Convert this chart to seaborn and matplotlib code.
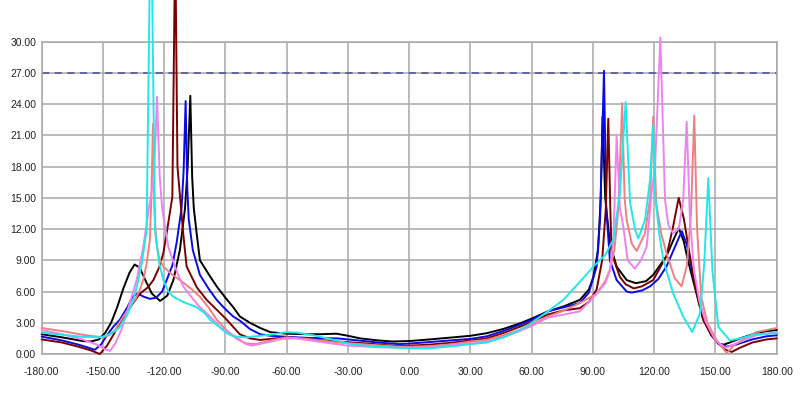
#Importar librerías
import pandas as pd
import numpy as np
import matplotlib
matplotlib.use('Agg')
import matplotlib.pyplot as plt
import seaborn as sns

#datos (ángulo vs valor)
x_negro = [-180, -170, -160, -156, -152, -149, -146, -143, -140, -137, -134.5, -132, -129, -126, -122, -118.5, -115.5, -112.3, -109.8, -108.5, -107.2, -106.3, -105.5, -104.1, -102.5, -98, -94.3, -90, -86.2, -82.9, -78, -73, -68, -60, -50, -43.7, -35.5, -30, -24, -15, -8, 0.4, 10, 21.6, 30, 38, 46, 54.3, 60, 68, 76, 83.6, 88, 90.2, 92.5, 93.8, 94.7, 96, 98.3, 101.6, 106.5, 111, 116, 119.5, 126, 129.5, 132, 134.5, 136.5, 139, 144, 148, 151.4, 154, 157, 162, 170, 175, 180]
y_negro = [1.9, 1.6, 1.25, 1.2, 1.4, 2.0, 3.0, 4.5, 6.3, 7.8, 8.6, 8.3, 7.0, 5.8, 5.1, 5.6, 7.1, 10, 14, 18, 24.8, 17, 14, 11.6, 9.0, 7.6, 6.5, 5.4, 4.5, 3.6, 3.0, 2.5, 2.1, 1.95, 1.9, 1.9, 1.95, 1.75, 1.5, 1.3, 1.2, 1.25, 1.4, 1.6, 1.75, 2.0, 2.4, 2.95, 3.4, 4.1, 4.6, 5.2, 6.2, 7.4, 10, 15, 22.8, 15, 10.6, 8.4, 7.1, 6.8, 7.0, 7.6, 9.4, 11, 12.1, 10.8, 9, 7.1, 3.3, 1.8, 1.0, 0.9, 1.1, 1.5, 2.0, 2.2, 2.3]

x_azul = [-180, -170, -162, -157, -154, -151, -148, -145, -141.7, -138, -135.5, -133, -130, -127, -124, -121, -118.8, -116, -113.9, -111.5, -110.5, -109.5, -108.7, -108, -106, -102.5, -98, -94.3, -90, -86.2, -82.9, -78, -73, -68, -60, -50, -35, -25, -15, -5, 0, 10, 20, 30, 38, 46, 54, 60, 68, 76, 83.6, 88, 91.8, 93.5, 95.4, 96.5, 98.3, 101.6, 106.5, 109, 114, 118, 122, 126, 129.5, 133.5, 136, 139, 144, 148, 151.4, 155.5, 160, 168, 175, 180]
y_azul = [1.67, 1.3, 0.9, 0.6, 0.4, 0.9, 1.8, 2.6, 3.3, 4.5, 5.5, 5.8, 5.5, 5.3, 5.4, 6.0, 7.1, 8.5, 10.7, 14, 17.5, 24.3, 16, 13, 10, 7.6, 6.2, 5.2, 4.3, 3.6, 3.2, 2.4, 1.9, 1.75, 1.65, 1.55, 1.5, 1.3, 1.1, 0.95, 1.0, 1.15, 1.3, 1.45, 1.7, 2.2, 2.8, 3.3, 4.1, 4.5, 4.9, 5.9, 8.4, 13, 27.2, 14, 9.0, 7.1, 6.0, 5.9, 6.1, 6.5, 7.2, 8.4, 10, 11.8, 10.5, 7.5, 3.6, 1.9, 1.0, 0.7, 0.9, 1.4, 1.7, 1.8]

x_granate = [-180, -170, -162, -156, -151.5, -148, -145, -141.7, -137, -131.9, -128, -125.3, -122.5, -120.4, -118.8, -116, -114.6, -113.5, -110.7, -109, -104, -99.2, -94, -89.4, -83, -78, -73, -68, -60, -50, -35, -20, -5, 0, 10, 21.6, 30, 38, 46, 54, 60, 68, 76, 83.6, 88, 91.8, 94.5, 96.3, 97.5, 98.5, 99.1, 103.2, 106, 110, 114, 119.5, 126, 129, 132, 134.5, 137, 140, 144, 148, 152, 155, 158, 162, 168, 175, 180]
y_granate = [1.4, 1.1, 0.7, 0.35, 0.0, 0.8, 1.8, 3.0, 4.4, 5.8, 6.4, 7.1, 8.3, 9.7, 11.6, 15.1, 40, 18, 11.6, 8.4, 6.4, 5.2, 4.2, 3.3, 1.9, 1.5, 1.35, 1.45, 1.6, 1.45, 1.2, 1.0, 0.75, 0.8, 0.9, 1.1, 1.3, 1.5, 2.0, 2.6, 3.1, 3.8, 4.2, 4.4, 5.0, 6.2, 9, 14, 22.6, 14, 9.7, 7.4, 6.7, 6.3, 6.5, 7.1, 9.4, 12, 15.0, 13, 10, 6.5, 3.3, 1.8, 0.9, 0.4, 0.2, 0.6, 1.1, 1.4, 1.5]

x_salmon = [-180, -170, -160, -150, -147, -144, -141.7, -138, -134, -131.9, -130, -128.6, -127, -126.3, -125.5, -124.8, -124, -122.5, -120.4, -116, -112.3, -107, -102.5, -98, -94.3, -90, -87.8, -84, -79.6, -75, -68, -60, -50, -35, -20, -5, 0, 10, 21.6, 30, 38, 46, 54, 60, 68, 76, 83.6, 91.8, 96, 98.3, 100.5, 102.5, 104.3, 105.5, 106.5, 109, 111.4, 115.5, 118, 119.5, 121, 123.5, 126, 130, 133.4, 136, 138, 139.6, 141, 143, 146, 150.6, 155.5, 160, 170, 180]
y_salmon = [2.5, 2.2, 1.85, 1.6, 1.8, 2.3, 3.1, 4.2, 5.3, 6.2, 7.3, 8.7, 11, 15, 22.1, 14, 11, 9.2, 8.4, 7.6, 7.1, 6.3, 5.5, 4.4, 3.3, 2.4, 2.0, 1.4, 1.0, 0.95, 1.3, 1.6, 1.45, 1.1, 0.9, 0.7, 0.7, 0.75, 0.95, 1.2, 1.35, 1.8, 2.3, 2.8, 3.6, 4.2, 4.9, 5.8, 7, 8.1, 10, 14, 24.1, 15, 12.9, 10.6, 9.9, 11.6, 15, 22.8, 14.5, 11.5, 9.7, 7.3, 6.5, 8.5, 13.5, 22.9, 12, 5.5, 3.0, 1.3, 0.1, 1.0, 2.1, 2.5]

x_violeta = [-180, -170, -160, -153, -149, -146.5, -144, -141, -138.4, -135.5, -133.5, -130.2, -127.5, -125, -123.5, -122.2, -121, -118, -114, -110.7, -106, -102.5, -97, -92.7, -88, -84.5, -80, -77, -70, -62, -55, -45, -30, -15, 0, 10, 21.6, 30, 38, 46, 54, 60, 68, 76, 83.6, 91.8, 96, 98.3, 100, 101.6, 103.2, 104.9, 107, 110.5, 113.5, 116.3, 118.7, 120.4, 123, 125.3, 126.9, 129.3, 132, 134.2, 135.9, 137.5, 139.5, 142, 145, 150, 155, 160, 170, 180]
y_violeta = [2.3, 1.9, 1.4, 0.9, 0.45, 0.3, 1.0, 2.3, 3.9, 5.8, 7.1, 10.3, 14, 17, 24.7, 17, 14, 10.3, 8.0, 6.5, 5.3, 4.5, 3.5, 2.6, 2.0, 1.6, 0.95, 0.8, 1.1, 1.45, 1.5, 1.2, 0.8, 0.65, 0.6, 0.65, 0.85, 1.0, 1.2, 1.6, 2.2, 2.7, 3.5, 3.8, 4.1, 5.8, 6.8, 8.0, 11, 20.9, 14, 12.2, 9.0, 8.2, 9, 10.3, 15.5, 18, 30.4, 14.8, 12.4, 11.6, 12, 14.8, 22.3, 13, 8, 5.2, 3.2, 1.3, 0.6, 1.0, 1.8, 2.1]

x_cian = [-180, -170, -160, -151, -147, -144, -141.7, -138, -135.1, -133, -131, -128.6, -126.5, -124.5, -122.5, -120.4, -118, -115.5, -110.7, -104.1, -100, -97.6, -93, -89.4, -86.2, -80, -73, -68.2, -60, -55, -47, -40, -27.4, -15, 0, 10, 21.6, 30, 38, 46, 54, 60, 68, 75.5, 83, 90.2, 96, 100, 103.2, 106, 108.2, 110.7, 112.2, 115.5, 118, 119.5, 120.3, 122.5, 124.5, 129.3, 134.2, 138.6, 142.4, 144.5, 146.5, 148.5, 151.4, 157.1, 162, 170, 180]
y_cian = [2.05, 1.85, 1.65, 1.6, 1.9, 2.2, 2.6, 3.8, 5.2, 6.8, 8.7, 11.9, 45, 11.9, 8.8, 7.1, 6.0, 5.5, 5.0, 4.5, 3.9, 3.3, 2.6, 2.0, 1.7, 1.6, 1.75, 1.85, 2.1, 2.05, 1.8, 1.5, 0.9, 0.7, 0.55, 0.55, 0.75, 0.95, 1.1, 1.6, 2.3, 3.0, 4.1, 5.2, 6.8, 8.4, 9.5, 11, 15.5, 24.2, 14.5, 11.9, 11.1, 12.9, 16.8, 22.0, 15.5, 11.5, 9.0, 5.8, 3.6, 2.1, 3.9, 8.7, 16.9, 8, 2.6, 1.3, 1.5, 1.9, 2.0]

linea_ref = 27
xticks = [-180, -150, -120, -90, -60, -30, 0, 30, 60, 90, 120, 150, 180]
yticks = [0, 3, 6, 9, 12, 15, 18, 21, 24, 27, 30]

#armar base de datos larga para seaborn
series = {
    'negro': (x_negro, y_negro),
    'azul': (x_azul, y_azul),
    'granate': (x_granate, y_granate),
    'salmon': (x_salmon, y_salmon),
    'violeta': (x_violeta, y_violeta),
    'cian': (x_cian, y_cian),
}
datos = pd.concat([pd.DataFrame({'angulo': xs, 'valor': ys, 'serie': nombre})
                   for nombre, (xs, ys) in series.items()], ignore_index=True)

colores = {'negro': '#000000', 'azul': '#0a0ae6', 'granate': '#7a0000',
           'salmon': '#f08080', 'violeta': '#ee82ee', 'cian': '#20e8e8'}

sns.set_style('white')
plt.rcParams['font.family'] = ['Liberation Sans', 'DejaVu Sans']
plt.rcParams['axes.unicode_minus'] = False

fig = plt.figure(figsize=(8, 3.97), dpi=100)
ax = fig.add_axes([0.0521, 0.1083, 0.9188, 0.7867])

sns.lineplot(data=datos, x='angulo', y='valor', hue='serie', palette=colores,
             estimator=None, sort=False, linewidth=1.4, legend=False,
             clip_on=False, ax=ax, zorder=3)

#línea de referencia punteada
ax.axhline(linea_ref, color='#5c5c9c', linestyle=(0, (4, 3)), linewidth=1.3, zorder=2)

ax.set_xlim(-180, 180)
ax.set_ylim(0, 30)
ax.set_xticks(xticks)
ax.set_yticks(yticks)
ax.set_xticklabels(['%.2f' % v for v in xticks])
ax.set_yticklabels(['%.2f' % v for v in yticks])
ax.tick_params(length=0, labelsize=7.5, colors='#222222')
ax.tick_params(axis='x', pad=9)
ax.tick_params(axis='y', pad=4)
ax.grid(True, color='#a8a8a8', linewidth=1.1)
for s in ax.spines.values():
    s.set_color('#a8a8a8')
    s.set_linewidth(1.1)
ax.set_xlabel('')
ax.set_ylabel('')

fig.savefig('out.png', dpi=100)
